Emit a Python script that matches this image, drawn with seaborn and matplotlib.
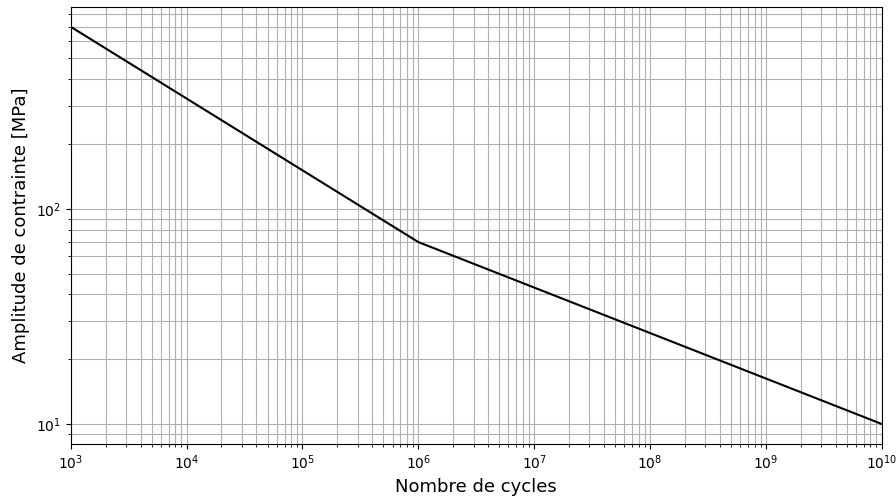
import matplotlib
matplotlib.use("Agg")
import matplotlib.pyplot as plt
import seaborn as sns
import pandas as pd

# S-N curve (Wöhler) break points
cycles = [1e3, 1e6, 1e10]
stress = [700, 70, 10]


def plot_sn_curve() -> None:
    sns.set_theme(style='ticks')
    plt.rcParams['font.family'] = ['DejaVu Sans']
    plt.rcParams.update({
        'text.color': 'black',
        'axes.labelcolor': 'black',
        'xtick.color': 'black',
        'ytick.color': 'black',
    })

    df = pd.DataFrame({'cycles': cycles, 'stress': stress})

    fig, ax = plt.subplots(figsize=(8.96, 4.97), dpi=100)
    fig.subplots_adjust(left=0.079, right=0.984, top=0.986, bottom=0.107)

    sns.lineplot(data=df, x='cycles', y='stress', color='black',
                 linewidth=1.5, ax=ax)
    ax.set_xscale('log')
    ax.set_yscale('log')
    ax.set_xlim(1e3, 1e10)

    ax.grid(True, which='both', color='#b0b0b0', linewidth=0.8)
    ax.tick_params(axis='both', which='major', labelsize=10, length=3.5,
                   width=0.8, color='black', labelcolor='black')
    ax.tick_params(axis='both', which='minor', length=2, width=0.6,
                   color='black')
    for spine in ax.spines.values():
        spine.set_color('black')
        spine.set_linewidth(0.8)

    ax.set_xlabel('Nombre de cycles', fontsize=13, color='black')
    ax.set_ylabel('Amplitude de contrainte [MPa]', fontsize=13, color='black')

    fig.savefig('out.png', dpi=100)


plot_sn_curve()
